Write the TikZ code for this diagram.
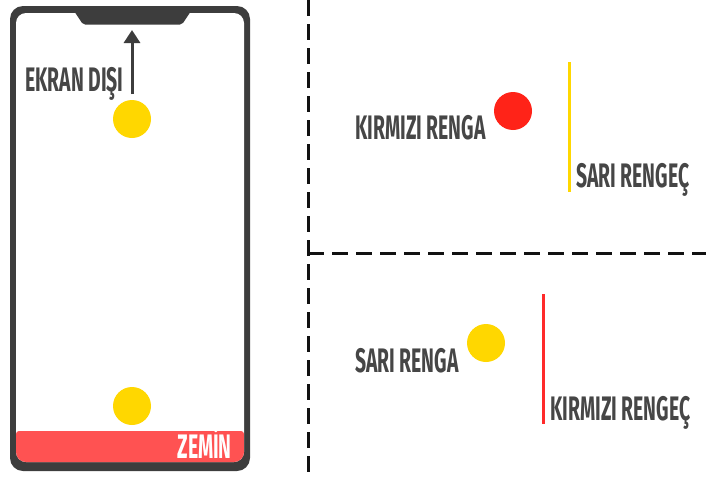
\documentclass[tikz,border=0pt]{standalone}
\usepackage{fontspec}
\usetikzlibrary{arrows.meta}
\newfontfamily\condfont[FakeStretch=0.57]{Fira Sans}
\definecolor{framegray}{HTML}{3D3D3D}
\definecolor{textgray}{HTML}{464646}
\definecolor{ballyellow}{HTML}{FFD700}
\definecolor{ballred}{HTML}{FF2318}
\definecolor{linered}{HTML}{FF2A2A}
\definecolor{groundred}{HTML}{FF5252}
\definecolor{dashblack}{HTML}{111111}
\tikzset{
  lblfont/.style={font=\condfont\bfseries\fontsize{34}{36}\selectfont},
  lbl/.style={inner sep=0pt, anchor=base west, text=textgray, lblfont},
  ball/.style={circle, minimum size=38pt, inner sep=0pt},
  divider/.style={draw=dashblack, line width=3pt, dash pattern=on 16pt off 8pt},
  marker/.style={line width=3pt}
}
\begin{document}
\begin{tikzpicture}[x=1pt, y=-1pt]
  \useasboundingbox (0,0) rectangle (706,479);

  % phone body
  \fill[framegray, rounded corners=13pt] (10,6) rectangle (250,471);
  \fill[white, rounded corners=10pt] (16,13) rectangle (244,462);
  % notch
  \fill[framegray, rounded corners=2pt] (74,11) -- (83,24.5) -- (182,24.5) -- (191,11) -- cycle;
  \coordinate (notch) at (132,30);

  % ground strip
  \begin{scope}
    \clip[rounded corners=10pt] (16,13) rectangle (244,462);
    \fill[groundred, rounded corners=3pt] (16,431) rectangle (244,470);
  \end{scope}
  \node[inner sep=0pt, anchor=base east, text=white, lblfont] (zemin) at (232,458) {ZEM\kern-0.5pt İN};

  % balls inside the phone
  \node[ball, fill=ballyellow] (topball) at (132,119) {};
  \node[ball, fill=ballyellow] (bottomball) at (132,406) {};

  % off-screen arrow
  \coordinate (arrowstart) at (132,94);
  \draw[framegray, line width=3pt, -{Triangle[width=16pt,length=13pt]}] (arrowstart) -- (notch);
  \node[lbl] (offscreen) at (25,91) {EKRAN DIŞI};

  % dividers
  \coordinate (vtop) at (308,0);
  \coordinate (vbot) at (308,479);
  \coordinate (hleft) at (308,253);
  \coordinate (hright) at (706,253);
  \draw[divider] (vtop) -- (vbot);
  \draw[divider] (hleft) -- (hright);

  % upper panel
  \node[ball, fill=ballred] (redball) at (513,111) {};
  \node[lbl] (redlabel) at (355,139) {KIRMIZI RENGA};
  \coordinate (ylinetop) at (569,62);
  \coordinate (ylinebot) at (569,192);
  \draw[marker, ballyellow] (ylinetop) -- (ylinebot);
  \node[lbl] (ylabel) at (576,187) {SARI RENGEÇ};

  % lower panel
  \node[ball, fill=ballyellow] (yellowball) at (486,343) {};
  \node[lbl] (yellowlabel) at (355,372) {SARI RENGA};
  \coordinate (rlinetop) at (543,294);
  \coordinate (rlinebot) at (543,424);
  \draw[marker, linered] (rlinetop) -- (rlinebot);
  \node[lbl] (rlabel) at (550,420) {KIRMIZI RENGEÇ};
\end{tikzpicture}
\end{document}
